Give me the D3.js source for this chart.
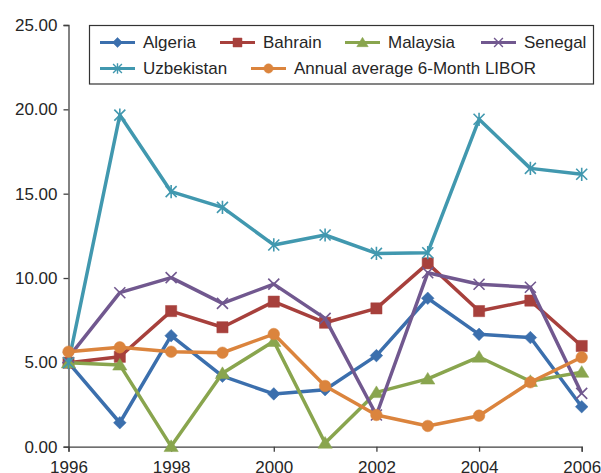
<!DOCTYPE html>
<html>
<head>
<meta charset="utf-8">
<script src="https://cdn.jsdelivr.net/npm/d3@7"></script>
<style>
  body { margin: 0; background: #fff; }
  text { font-family: "Liberation Sans", Arial, sans-serif; fill: #262626; }
</style>
</head>
<body>
<svg width="601" height="473"></svg>
<script>
var years = [1996, 1997, 1998, 1999, 2000, 2001, 2002, 2003, 2004, 2005, 2006];
var algeria = [4.98, 1.42, 6.58, 4.18, 3.13, 3.38, 5.40, 8.80, 6.66, 6.47, 2.37];
var bahrain = [4.98, 5.33, 8.04, 7.08, 8.60, 7.35, 8.20, 10.87, 8.04, 8.66, 5.97];
var malaysia = [4.98, 4.85, 0.02, 4.35, 6.25, 0.22, 3.22, 4.02, 5.32, 3.88, 4.42];
var senegal = [5.30, 9.13, 10.02, 8.50, 9.64, 7.61, 1.88, 10.31, 9.63, 9.45, 3.16];
var uzbekistan = [4.98, 19.66, 15.12, 14.19, 11.96, 12.55, 11.46, 11.50, 19.41, 16.50, 16.15];
var libor = [5.63, 5.89, 5.63, 5.57, 6.68, 3.60, 1.88, 1.23, 1.84, 3.82, 5.30];
var yTicks = [0, 5, 10, 15, 20, 25];
var xTicks = [1996, 1998, 2000, 2002, 2004, 2006];

var series = [
  {name: "Algeria", values: algeria, color: "#3b6fad", marker: "diamond"},
  {name: "Bahrain", values: bahrain, color: "#a7403c", marker: "square"},
  {name: "Malaysia", values: malaysia, color: "#89a54e", marker: "triangle"},
  {name: "Senegal", values: senegal, color: "#71588f", marker: "times"},
  {name: "Uzbekistan", values: uzbekistan, color: "#4198af", marker: "asterisk"},
  {name: "Annual average 6-Month LIBOR", values: libor, color: "#db843d", marker: "circle"}
];

var svg = d3.select("svg"),
    margin = {top: 25, right: 19.3, bottom: 26.3, left: 68.5},
    width = +svg.attr("width") - margin.left - margin.right,
    height = +svg.attr("height") - margin.top - margin.bottom;

var x = d3.scaleLinear().domain([1996, 2006]).range([0, width]),
    y = d3.scaleLinear().domain([0, 25]).range([height, 0]);

var g = svg.append("g")
    .attr("transform", "translate(" + margin.left + "," + margin.top + ")");

// marker shapes, r = half size
function markerPath(type, r) {
  var p = d3.path();
  if (type == "diamond") {
    p.moveTo(0, -r); p.lineTo(r, 0); p.lineTo(0, r); p.lineTo(-r, 0); p.closePath();
  } else if (type == "square") {
    p.rect(-r, -r, 2 * r, 2 * r);
  } else if (type == "triangle") {
    p.moveTo(0, -r); p.lineTo(r * 1.1, r * 0.8); p.lineTo(-r * 1.1, r * 0.8); p.closePath();
  } else if (type == "circle") {
    p.arc(0, 0, r, 0, 2 * Math.PI);
  } else if (type == "times") {
    p.moveTo(-r, -r); p.lineTo(r, r); p.moveTo(-r, r); p.lineTo(r, -r);
  } else if (type == "asterisk") {
    p.moveTo(-r, -r); p.lineTo(r, r); p.moveTo(-r, r); p.lineTo(r, -r);
    p.moveTo(0, -r * 1.2); p.lineTo(0, r * 1.2);
  }
  return p.toString();
}
var markerSize = {diamond: 6.3, square: 5.6, triangle: 6.5, circle: 5.8, times: 5.5, asterisk: 5.5};
var strokeMarker = {times: true, asterisk: true};

// axes
var yAxis = g.append("g")
    .call(d3.axisLeft(y).tickValues(yTicks).tickFormat(d3.format(".2f")).tickSize(5).tickPadding(6));
var xAxis = g.append("g")
    .attr("transform", "translate(0," + height + ")")
    .call(d3.axisBottom(x).tickValues(xTicks).tickFormat(d3.format("d")).tickSize(5).tickPadding(9));
[xAxis, yAxis].forEach(function(a) {
  a.select(".domain").attr("stroke", "#404040").attr("stroke-width", 1.3);
  a.selectAll(".tick line").attr("stroke", "#404040").attr("stroke-width", 1.3);
  a.selectAll("text").style("font-size", "17px").attr("fill", "#262626")
    .style("font-family", "'Liberation Sans', Arial, sans-serif");
});

var line = d3.line()
    .x(function(d, i) { return x(years[i]); })
    .y(function(d) { return y(d); });

series.forEach(function(s) {
  var sg = g.append("g");
  sg.append("path")
    .datum(s.values)
    .attr("fill", "none")
    .attr("stroke", s.color)
    .attr("stroke-width", 3.5)
    .attr("stroke-linejoin", "round")
    .attr("d", line);
  sg.selectAll(".mk")
    .data(s.values)
    .enter().append("path")
    .attr("class", "mk")
    .attr("transform", function(d, i) { return "translate(" + x(years[i]) + "," + y(d) + ")"; })
    .attr("d", markerPath(s.marker, markerSize[s.marker]))
    .attr("fill", strokeMarker[s.marker] ? "none" : s.color)
    .attr("stroke", s.color)
    .attr("stroke-width", strokeMarker[s.marker] ? 1.6 : 0.5);
});

// legend
var legend = svg.append("g");
legend.append("rect")
    .attr("x", 89.5).attr("y", 25.5)
    .attr("width", 504).attr("height", 58.5)
    .attr("fill", "#fff")
    .attr("stroke", "#333").attr("stroke-width", 1.2);

var legendPos = [
  [100, 42.5], [220, 42.5], [345, 42.5], [481, 42.5],
  [100, 68.5], [251, 68.5]
];
series.forEach(function(s, i) {
  var lx = legendPos[i][0], ly = legendPos[i][1];
  var item = legend.append("g").attr("transform", "translate(" + lx + "," + ly + ")");
  item.append("line")
    .attr("x1", 0).attr("x2", 35).attr("y1", 0).attr("y2", 0)
    .attr("stroke", s.color).attr("stroke-width", 3.2);
  item.append("path")
    .attr("transform", "translate(17.5,0)")
    .attr("d", markerPath(s.marker, markerSize[s.marker] * 0.8))
    .attr("fill", strokeMarker[s.marker] ? "none" : s.color)
    .attr("stroke", s.color)
    .attr("stroke-width", strokeMarker[s.marker] ? 1.4 : 0.5);
  item.append("text")
    .attr("x", 43)
    .attr("y", 0)
    .attr("dy", "0.35em")
    .style("font-size", "17px")
    .text(s.name);
});
</script>
</body>
</html>
